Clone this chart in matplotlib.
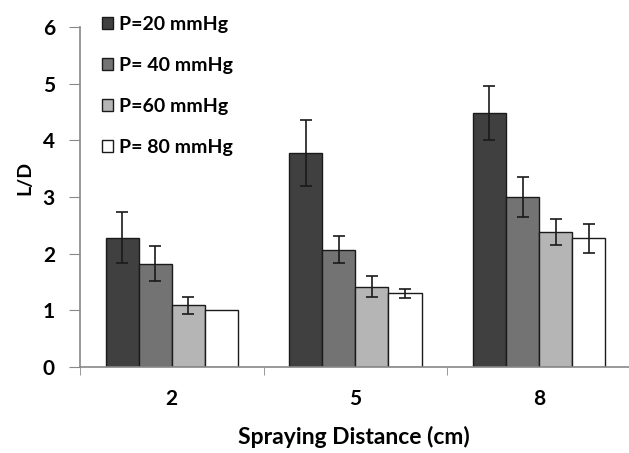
import numpy as np
import matplotlib.pyplot as plt

distances = ["2", "5", "8"]
labels = ["P=20 mmHg", "P= 40 mmHg", "P=60 mmHg", "P= 80 mmHg"]
p20 = [2.28, 3.78, 4.48]
p40 = [1.82, 2.07, 3.00]
p60 = [1.09, 1.42, 2.39]
p80 = [1.00, 1.30, 2.27]
e20 = [0.45, 0.58, 0.48]
e40 = [0.31, 0.24, 0.36]
e60 = [0.15, 0.18, 0.23]
e80 = [np.nan, 0.08, 0.26]

colors = ["#404040", "#737373", "#b5b5b5", "#ffffff"]

plt.rcParams['font.family'] = ['Lato', 'DejaVu Sans']
plt.rcParams['font.weight'] = 'bold'

fig = plt.figure(figsize=(6.29, 4.53), dpi=100)
ax = fig.add_axes([0.127, 0.190, 0.876, 0.750])

x = np.arange(len(distances))
w = 0.18
series = [p20, p40, p60, p80]
errs = [e20, e40, e60, e80]
for i in range(4):
    ax.bar(x + (i - 1.5) * w, series[i], w, color=colors[i], edgecolor="#1a1a1a",
           linewidth=1.0, label=labels[i],
           yerr=errs[i], capsize=4, error_kw=dict(ecolor="#1a1a1a", elinewidth=1.2, capthick=1.2))

ax.set_ylim(0, 6)
ax.set_xlim(-0.5, 2.5)
ax.set_yticks(range(7))
ax.set_yticklabels([str(v) for v in range(7)], fontsize=15, fontweight='bold')
ax.set_xticks(x)
ax.set_xticklabels(distances, fontsize=15, fontweight='bold')
ax.tick_params(axis='x', length=0, pad=16)
ax.tick_params(axis='y', length=8, color="#888888", pad=10)
# boundary ticks on the x axis
ax.set_xticks([-0.5, 0.5, 1.5, 2.5], minor=True)
ax.tick_params(axis='x', which='minor', length=6, color="#888888")

for s in ["top", "right"]:
    ax.spines[s].set_visible(False)
for s in ["left", "bottom"]:
    ax.spines[s].set_color("#888888")
    ax.spines[s].set_linewidth(1.2)

ax.set_ylabel("L/D", fontsize=14, fontweight='bold')
ax.yaxis.set_label_coords(-0.085, 0.556)
ax.set_xlabel("Spraying Distance (cm)", fontsize=16.5, fontweight='bold')
ax.xaxis.set_label_coords(0.497, -0.175)

leg = ax.legend(loc="upper left", bbox_to_anchor=(0.008, 1.085), frameon=False,
                fontsize=14, handlelength=0.6, handleheight=0.6,
                handletextpad=0.3, labelspacing=1.23)
for t in leg.get_texts():
    t.set_fontweight('bold')

fig.savefig("out.png", dpi=100)
